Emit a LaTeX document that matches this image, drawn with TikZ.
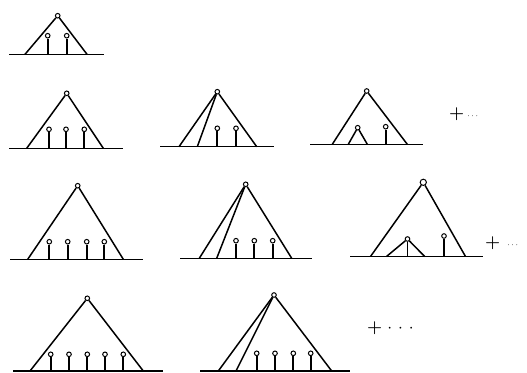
\documentclass[tikz,border=0pt]{standalone}
\usetikzlibrary{positioning}
\tikzset{
    vertex/.style={draw, circle, inner sep=0pt, minimum size=4.6pt, line width=1pt, fill=white},
    bigvertex/.style={vertex, minimum size=6.2pt},
    edge/.style={line width=1.5pt},
    stem/.style={line width=1.8pt},
    ground/.style={line width=1.4pt},
    more/.style={anchor=west, inner sep=0pt, font=\bfseries}
}
\begin{document}
\begin{tikzpicture}[x=1pt, y=-1pt]
\useasboundingbox (0,0) rectangle (527,372);
% first row
\coordinate (d1w) at (9,54.3);
\coordinate (d1e) at (104,54.3);
\coordinate (d1l) at (25,54.3);
\coordinate (d1r) at (87,54.3);
\node[vertex] (d1) at (57.7,15.7) {};
\draw[ground] (d1w) -- (d1e);
\draw[edge] (d1) -- (d1l);
\draw[edge] (d1) -- (d1r);
\foreach \x [count=\i] in {47.7,66.7} {
    \node[vertex] (d1-\i) at (\x,35.7) {};
    \draw[stem] (d1-\i) -- (d1-\i |- d1w);
}
% second row
\coordinate (d2w) at (9,148.3);
\coordinate (d2e) at (123,148.3);
\coordinate (d2l) at (26.7,148.3);
\coordinate (d2r) at (103.3,148.3);
\node[vertex] (d2) at (66.7,93.3) {};
\draw[ground] (d2w) -- (d2e);
\draw[edge] (d2) -- (d2l);
\draw[edge] (d2) -- (d2r);
\foreach \x [count=\i] in {49,66,84.3} {
    \node[vertex] (d2-\i) at (\x,129.3) {};
    \draw[stem] (d2-\i) -- (d2-\i |- d2w);
}

\coordinate (d3w) at (160,146.7);
\coordinate (d3e) at (274,146.7);
\coordinate (d3l) at (179,146.7);
\coordinate (d3m) at (197.3,146.7);
\coordinate (d3r) at (256.7,146.7);
\node[vertex] (d3) at (217.3,91.7) {};
\draw[ground] (d3w) -- (d3e);
\draw[edge] (d3) -- (d3l);
\draw[edge] (d3) -- (d3m);
\draw[edge] (d3) -- (d3r);
\foreach \x [count=\i] in {217.3,236} {
    \node[vertex] (d3-\i) at (\x,128.3) {};
    \draw[stem] (d3-\i) -- (d3-\i |- d3w);
}

\coordinate (d4w) at (310,144.3);
\coordinate (d4e) at (423.3,144.3);
\coordinate (d4l) at (332.3,144.3);
\coordinate (d4r) at (407.3,144.3);
\coordinate (d4sl) at (348.3,144.3);
\coordinate (d4sr) at (367.3,144.3);
\node[vertex] (d4) at (366.7,91) {};
\node[vertex] (d4s) at (357.7,127.7) {};
\node[vertex] (d4-1) at (385.7,126.7) {};
\draw[ground] (d4w) -- (d4e);
\draw[edge] (d4) -- (d4l);
\draw[edge] (d4) -- (d4r);
\draw[edge] (d4s) -- (d4sl);
\draw[edge] (d4s) -- (d4sr);
\draw[stem] (d4-1) -- (d4-1 |- d4w);
\node[more] (m2) at (449,114) {{\LARGE +}\hspace{3pt}{\small$\cdots$}};
% third row
\coordinate (d5w) at (10,259.3);
\coordinate (d5e) at (143.3,259.3);
\coordinate (d5l) at (27.7,259.3);
\coordinate (d5r) at (123.3,259.3);
\node[vertex] (d5) at (77.7,185.7) {};
\draw[ground] (d5w) -- (d5e);
\draw[edge] (d5) -- (d5l);
\draw[edge] (d5) -- (d5r);
\foreach \x [count=\i] in {49.3,67.7,86.7,104.3} {
    \node[vertex] (d5-\i) at (\x,241.7) {};
    \draw[stem] (d5-\i) -- (d5-\i |- d5w);
}

\coordinate (d6w) at (180,258.3);
\coordinate (d6e) at (311.7,258.3);
\coordinate (d6l) at (199.3,258.3);
\coordinate (d6m) at (216.7,258.3);
\coordinate (d6r) at (291.7,258.3);
\node[vertex] (d6) at (245.7,184.3) {};
\draw[ground] (d6w) -- (d6e);
\draw[edge] (d6) -- (d6l);
\draw[edge] (d6) -- (d6m);
\draw[edge] (d6) -- (d6r);
\foreach \x [count=\i] in {236,254.3,272.7} {
    \node[vertex] (d6-\i) at (\x,240.7) {};
    \draw[stem] (d6-\i) -- (d6-\i |- d6w);
}

\coordinate (d7w) at (350,256.5);
\coordinate (d7e) at (483,256.5);
\coordinate (d7l) at (370.5,256.5);
\coordinate (d7r) at (465.5,256.5);
\coordinate (d7sl) at (386.5,256.5);
\coordinate (d7sr) at (424.7,256.5);
\node[bigvertex] (d7) at (423.3,182.3) {};
\node[vertex] (d7s) at (407.5,239) {};
\node[vertex] (d7-1) at (444,236) {};
\draw[ground] (d7w) -- (d7e);
\draw[edge] (d7) -- (d7l);
\draw[edge] (d7) -- (d7r);
\draw[edge] (d7s) -- (d7sl);
\draw[edge] (d7s) -- (d7sr);
\draw[stem] (d7s) -- (d7s |- d7w);
\draw[stem] (d7-1) -- (d7-1 |- d7w);
\node[more] (m3) at (485,242.7) {{\LARGE +}\hspace{7pt}{\small$\cdots$}};
% fourth row
\coordinate (d8w) at (13,371);
\coordinate (d8e) at (163.3,371);
\coordinate (d8l) at (30,371);
\coordinate (d8r) at (143.3,371);
\node[vertex] (d8) at (87.3,298.3) {};
\draw[ground] (d8w) -- (d8e);
\draw[edge] (d8) -- (d8l);
\draw[edge] (d8) -- (d8r);
\foreach \x [count=\i] in {50.7,69,87.3,105,123.3} {
    \node[vertex] (d8-\i) at (\x,354.3) {};
    \draw[stem] (d8-\i) -- (d8-\i |- d8w);
}

\coordinate (d9w) at (200,371);
\coordinate (d9e) at (350,371);
\coordinate (d9l) at (218.3,371);
\coordinate (d9m) at (236,371);
\coordinate (d9r) at (331.7,371);
\node[vertex] (d9) at (274,295) {};
\draw[ground] (d9w) -- (d9e);
\draw[edge] (d9) -- (d9l);
\draw[edge] (d9) -- (d9m);
\draw[edge] (d9) -- (d9r);
\foreach \x [count=\i] in {256.7,275,293.3,310.7} {
    \node[vertex] (d9-\i) at (\x,353.3) {};
    \draw[stem] (d9-\i) -- (d9-\i |- d9w);
}
\node[more] (m4) at (367,328) {\LARGE +\hspace{5pt}$\cdot$\hspace{6pt}$\cdot$\hspace{6pt}$\cdot$};
\end{tikzpicture}
\end{document}
